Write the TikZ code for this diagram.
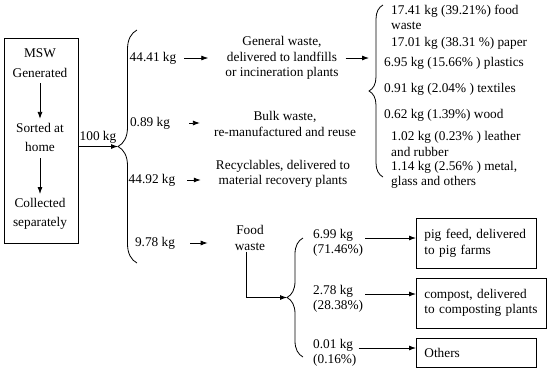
\documentclass[tikz,border=0pt]{standalone}
\usepackage{fontspec}
\setmainfont{Liberation Serif}
\usetikzlibrary{arrows.meta,positioning,decorations.pathreplacing}
\begin{document}
\begin{tikzpicture}[
  x=1pt, y=-1pt,
  font=\fontsize{13.3}{15.5}\selectfont,
  txt/.style={inner sep=1pt, align=center},
  item/.style={inner sep=0pt, anchor=west, align=left},
  stage/.style={txt, font=\fontsize{13.3}{19.5}\selectfont},
  box/.style={draw, line width=0.8pt, anchor=west, align=left, inner xsep=8pt, inner ysep=0pt},
  arr/.style={-{Latex[length=7pt,width=5pt]}, line width=0.8pt},
  brace/.style={decorate, decoration={brace, amplitude=#1}, line width=0.8pt}
]
\useasboundingbox (0,0) rectangle (550,373);

% --- source box
\node[draw, line width=0.8pt, minimum width=74pt, minimum height=205pt] (msw) at (41,140.5) {};
\node[stage] (gen) at (40,63) {MSW\\Generated};
\node[stage] (sort) at (40,137.5) {Sorted at\\home};
\node[stage] (coll) at (40,214) {Collected\\separately};
\draw[arr, shorten <=5pt, shorten >=3pt] (gen) -- (sort);
\draw[arr, shorten <=5pt, shorten >=3pt] (sort) -- (coll);

\coordinate (split) at (118,146.5);
\draw[arr] (msw.east |- split) -- (split);
\node[txt] (total) at (98,137) {100 kg};
\draw[brace=19] (137,263) -- (137,30);

% --- four streams
\node[txt] (w1) at (153,58) {44.41 kg};
\node[txt] (w2) at (150,123) {0.89 kg};
\node[txt] (w3) at (152,180) {44.92 kg};
\node[txt] (w4) at (155,243) {9.78 kg};
\node[txt] (gw) at (282,58) {General waste,\\delivered to landfills\\or incineration plants};
\node[txt] (bw) at (285,124) {Bulk waste,\\re-manufactured and reuse};
\node[txt] (rc) at (283,174) {Recyclables, delivered to\\material recovery plants};
\node[txt] (fw) at (250,238) {Food\\waste};
\foreach \a/\b/\s/\e in {w1/gw/7/16, w2/bw/18/13, w3/rc/11/14, w4/fw/14/26}
  \draw[arr, shorten <=\s pt, shorten >=\e pt] (\a.east) -- (\a.east -| \b.west);

% --- composition of general waste
\coordinate (kinds) at (369,91);
\draw[brace=14] (383,177) -- (383,5);
\draw[arr, shorten <=6pt] (gw.east) -- (gw.east -| kinds);
\node[item] (c1) at (391,17.5) {17.41 kg (39.21\%) food\\waste};
\node[item] (c2) at (391,43) {17.01 kg (38.31 \%) paper};
\node[item] (c3) at (384,63) {6.95 kg (15.66\% ) plastics};
\node[item] (c4) at (384,89) {0.91 kg (2.04\% ) textiles};
\node[item] (c5) at (384,115) {0.62 kg (1.39\%) wood};
\node[item] (c6) at (391,144) {1.02 kg (0.23\% ) leather\\and rubber};
\node[item] (c7) at (391,175) {1.14 kg (2.56\% ) metal,\\glass and others};

% --- food waste treatment
\coordinate (food) at (287,297.5);
\draw[arr] ([xshift=-4pt]fw.south) |- (food);
\draw[brace=16] (303,357) -- (303,238);
\node[item] (p1) at (313,243) {6.99 kg\\(71.46\%)};
\node[item] (p2) at (313,299) {2.78 kg\\(28.38\%)};
\node[item] (p3) at (313,353) {0.01 kg\\(0.16\%)};
\node[box, text width=104pt, minimum height=50pt] (pig) at (416,243) {pig feed, delivered\\to pig farms};
\node[box, text width=114pt, minimum height=50pt] (compost) at (416,303) {compost, delivered\\to composting plants};
\node[box, text width=104pt, minimum height=29pt] (oth) at (416,352.5) {Others};
\foreach \a/\b in {p1/pig, p2/compost, p3/oth}
  \draw[arr, shorten <=2pt] ([yshift=5pt]\a.east) -- ([yshift=5pt]\a.east -| \b.west);
\end{tikzpicture}
\end{document}
